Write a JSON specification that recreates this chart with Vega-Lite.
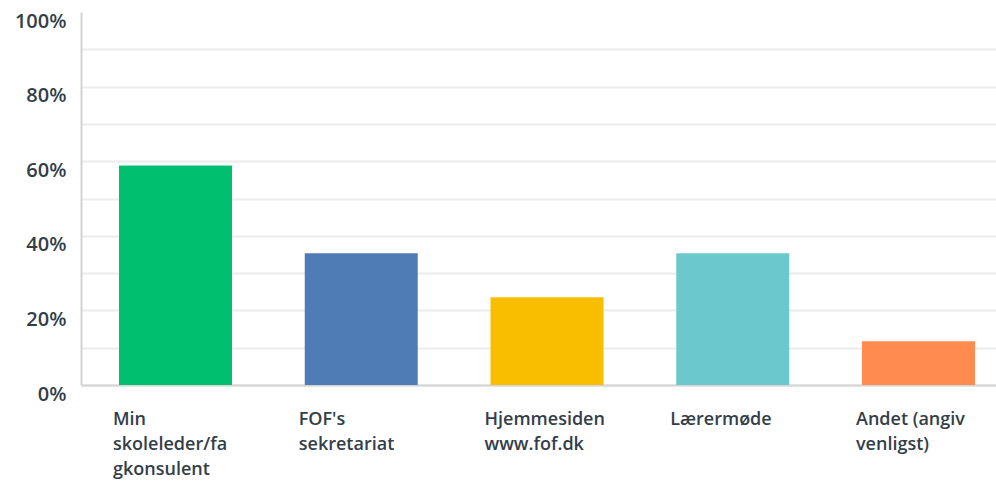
{
  "$schema": "https://vega.github.io/schema/vega-lite/v6.json",
  "autosize": "none",
  "padding": {"left": 81, "top": 12, "right": 0, "bottom": 96},
  "width": 915,
  "height": 373,
  "background": "white",
  "data": {
    "values": [
      {"category": "Min\nskoleleder/fa\ngkonsulent", "share": 0.5882},
      {"category": "FOF's\nsekretariat", "share": 0.3529},
      {"category": "Hjemmesiden\nwww.fof.dk", "share": 0.2353},
      {"category": "Lærermøde", "share": 0.3529},
      {"category": "Andet (angiv\nvenligst)", "share": 0.1176}
    ]
  },
  "mark": {"type": "bar"},
  "encoding": {
    "x": {
      "field": "category",
      "type": "nominal",
      "sort": null,
      "scale": {"paddingInner": 0.3917, "paddingOuter": 0.1589, "align": 0.644},
      "axis": {
        "title": null,
        "labelAngle": 0,
        "labelExpr": "split(datum.label, '\\n')",
        "labelAlign": "left",
        "labelBaseline": "top",
        "labelOffset": -62.5,
        "labelPadding": 25,
        "labelLineHeight": 25,
        "labelFont": "Open Sans",
        "labelFontSize": 18,
        "labelFontWeight": 600,
        "labelColor": "#333e48",
        "labelOverlap": false,
        "labelBound": false,
        "labelLimit": 300,
        "ticks": false,
        "domainColor": "#d4d4d4",
        "domainWidth": 2
      }
    },
    "y": {
      "field": "share",
      "type": "quantitative",
      "scale": {"domain": [0, 1], "nice": false},
      "axis": {
        "title": null,
        "values": [0, 0.1, 0.2, 0.3, 0.4, 0.5, 0.6, 0.7, 0.8, 0.9, 1],
        "format": ".0%",
        "labelExpr": "round(datum.value * 10) % 2 == 0 ? datum.label : ''",
        "labelFont": "Open Sans",
        "labelFontSize": 20,
        "labelFontWeight": 600,
        "labelColor": "#333e48",
        "labelOffset": 9,
        "labelPadding": 15,
        "ticks": false,
        "domainColor": "#d4d4d4",
        "domainWidth": 2,
        "gridColor": {"condition": {"test": "datum.value === 1", "value": "transparent"}, "value": "#ececec"},
        "gridWidth": 2
      }
    },
    "color": {
      "field": "category",
      "type": "nominal",
      "sort": null,
      "scale": {"range": ["#00bf6f", "#507cb6", "#f9be00", "#6bc8cd", "#ff8b4f"]},
      "legend": null
    }
  },
  "config": {"view": {"stroke": null}}
}
